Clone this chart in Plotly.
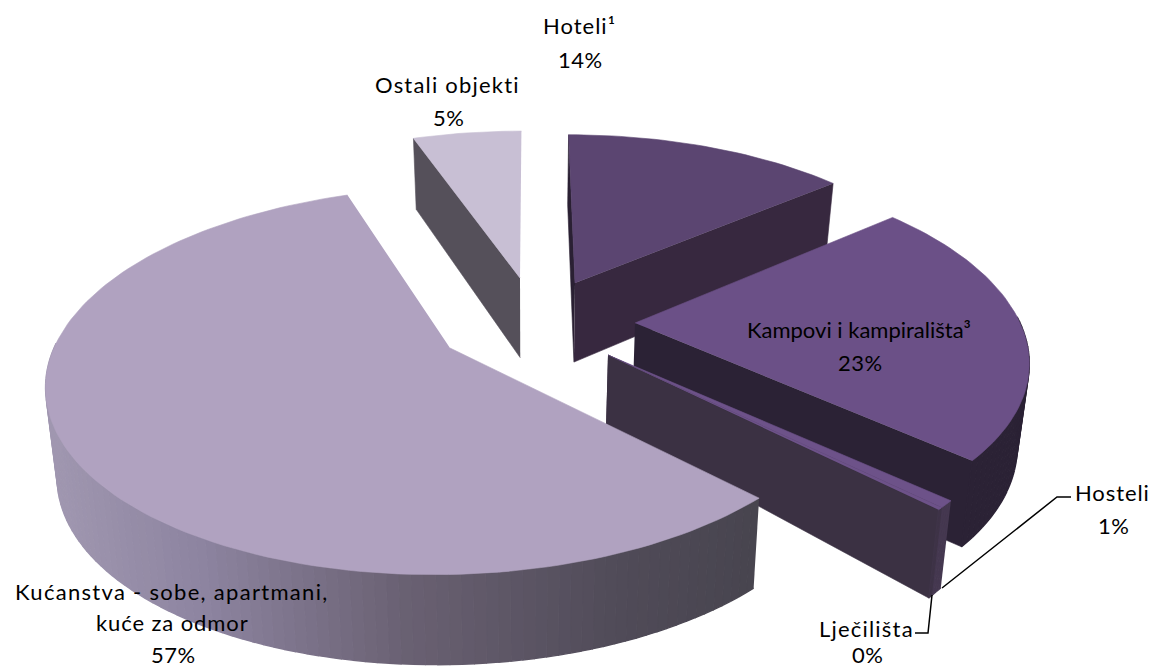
import math
import plotly.graph_objects as go

# ---------- data ----------
categories = ["Hoteli¹", "Kampovi i kampirališta³", "Hosteli", "Lječilišta",
              "Kućanstva - sobe, apartmani, kuće za odmor", "Ostali objekti"]
shares = [14.0, 22.6, 0.6, 0.2, 57.2, 5.4]

# ---------- style ----------
top_colors = ["#5b4571", "#6b5087", "#6d5289", "#6d5289", "#b0a2c0", "#c8bfd4"]
wall_colors = ["#37283f", "#2b2235", "#453850", "#3f3448", None, "#55505a"]
cut_start = ["#2a2033", None, None, None, None, "#55505a"]
cut_end = ["#37283f", "#2b2235", "#3b3143", "#3b3143", None, None]
# painter's order: rear slices first
draw_order = [5, 0, 1, 2, 3, 4]
# where each exploded apex lands on the page, and how tall its wall appears
apex_px = [(575, 283), (635, 323), (608, 355), (608, 355), (450, 348), (520, 278)]
wall_h = [83, 82, 68, 68, 90, 84]
wall_e = [0.8, 0.5, 1.9, 1.9, 0.0, 0.8]
radius_x = [1.0, 0.985, 0.98, 0.98, 0.99, 1.0]
radius_y = [1.0, 0.985, 0.98, 0.98, 0.965, 1.0]
gradient_stops = [(40, (161, 152, 177)), (200, (141, 132, 160)), (400, (106, 97, 115)),
                  (620, (80, 75, 88)), (770, (71, 68, 78))]

CX, CY, KX, KY, P, SHRINK = 530.0, 348.0, 400.0, 195.0, 0.176, 0.024


def apex_model(px, py):
    dx, dy = px - CX, py - CY
    y = -dy / (KY + P * dy)
    return dx * (1 + P * y) / KX, y


def project(x, y):
    s = 1 / (1 + P * y)
    return CX + KX * x * s, CY - KY * y * s, s


def lower(px, py, s, h, e):
    return CX + (px - CX) * (1 - SHRINK), py + h * s ** e


def poly(fig, xs, ys, color, width=0.6):
    fig.add_trace(go.Scatter(x=xs, y=ys, mode="lines", fill="toself", fillcolor=color,
                             line=dict(color=color, width=width), hoverinfo="skip",
                             showlegend=False))


def grad(px):
    for (x0, c0), (x1, c1) in zip(gradient_stops, gradient_stops[1:]):
        if px <= x1:
            t = max(0, (px - x0) / (x1 - x0))
            return "rgb(%d,%d,%d)" % tuple(round(a + (b - a) * t) for a, b in zip(c0, c1))
    return "rgb(%d,%d,%d)" % gradient_stops[-1][1]


total = sum(shares)
starts = [sum(shares[:i]) / total * 360 for i in range(len(shares))]
fig = go.Figure()

for i in draw_order:
    a0, a1 = starts[i], starts[i] + shares[i] / total * 360
    ox, oy = apex_model(*apex_px[i])
    n = max(4, int((a1 - a0) / 1.5))
    angs = [a0 + (a1 - a0) * j / n for j in range(n + 1)]
    pts = [project(ox + radius_x[i] * math.sin(math.radians(a)),
                   oy + radius_y[i] * math.cos(math.radians(a))) for a in angs]
    ap = project(ox, oy)
    h, e = wall_h[i], wall_e[i]
    ap_b = lower(ap[0], ap[1], ap[2], h, e)
    bot = [lower(p[0], p[1], p[2], h, e) for p in pts]
    # visible cut faces
    if cut_start[i]:
        poly(fig, [ap[0], pts[0][0], bot[0][0], ap_b[0]], [ap[1], pts[0][1], bot[0][1], ap_b[1]], cut_start[i])
    if cut_end[i]:
        poly(fig, [ap[0], pts[-1][0], bot[-1][0], ap_b[0]], [ap[1], pts[-1][1], bot[-1][1], ap_b[1]], cut_end[i])
    # outer wall, only where it faces the viewer
    for j in range(n):
        if math.cos(math.radians(angs[j])) > 0.02 and math.cos(math.radians(angs[j + 1])) > 0.02:
            continue
        c = wall_colors[i] or grad((pts[j][0] + pts[j + 1][0]) / 2)
        poly(fig, [pts[j][0], pts[j + 1][0], bot[j + 1][0], bot[j][0]],
             [pts[j][1], pts[j + 1][1], bot[j + 1][1], bot[j][1]], c, width=1.4)
    # top surface
    poly(fig, [ap[0]] + [p[0] for p in pts], [ap[1]] + [p[1] for p in pts], top_colors[i])

# ---------- leaders ----------
leaders = [([1071, 1057, 942], [497, 497, 588]), ([932, 928, 915], [595, 633, 633])]
for lx, ly in leaders:
    fig.add_trace(go.Scatter(x=lx, y=ly, mode="lines", line=dict(color="#000000", width=1.5),
                             hoverinfo="skip", showlegend=False))

# ---------- labels ----------
pct = ["%d%%" % round(v / total * 100) for v in shares]
label_lines = [
    (categories[0], 579, 25, 1.0), (pct[0], 580, 59, 0.5),
    (categories[1], 859, 329, 0.0), (pct[1], 860, 362, 0.5),
    (categories[2], 1112, 492, 0.9), (pct[2], 1113, 525, 0.5),
    (categories[3], 866, 628, 1.2), (pct[3], 867, 654, 0.5),
    ("Kućanstva - sobe, apartmani,", 172, 591, 1.3), ("kuće za odmor", 172, 622, 0.9), (pct[4], 173, 654, 0.5),
    (categories[5], 447, 84, 1.2), (pct[5], 448, 117, 0.5),
]
for text, x, y, spacing in label_lines:
    fig.add_annotation(x=x, y=y, text='<span style="letter-spacing:%spx">%s</span>' % (spacing, text),
                       showarrow=False, xanchor="center", yanchor="middle",
                       font=dict(family="Lato", size=22, color="#000000"))

fig.update_layout(width=1156, height=669, margin=dict(l=0, r=0, t=0, b=0),
                  paper_bgcolor="#ffffff", plot_bgcolor="#ffffff", showlegend=False,
                  xaxis=dict(range=[0, 1156], visible=False, fixedrange=True),
                  yaxis=dict(range=[669, 0], visible=False, fixedrange=True))
fig.write_html("out.html", config={"displayModeBar": False},
               post_script="document.body.style.margin='0';document.body.style.overflow='hidden';")
